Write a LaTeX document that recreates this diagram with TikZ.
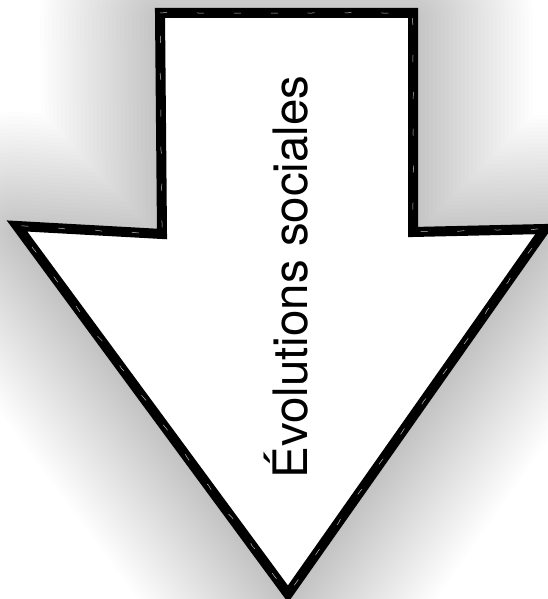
\documentclass[tikz,border=0pt]{standalone}
\usepackage{fontspec}
\setmainfont{TeX Gyre Heros}
\usepackage{graphicx}
\usetikzlibrary{decorations.pathmorphing}
\tikzset{
  shadowstroke/.style={line width=#1, black, opacity=0.006, line join=round},
  mainborder/.style={line width=10pt, black, line join=miter, miter limit=10},
  sketch/.style={line width=2.2pt, black, decorate, decoration={random steps, segment length=6pt, amplitude=1.1pt}},
  scratch/.style={line width=0.5pt, white!75!black, dash pattern=on 7pt off 30pt, decorate, decoration={random steps, segment length=5pt, amplitude=0.5pt}},
  labeltext/.style={rotate=90, anchor=base, font=\fontsize{47}{47}\selectfont, inner sep=0pt}
}
\begin{document}
\begin{tikzpicture}[x=1pt,y=1pt]
\useasboundingbox (0,0) rectangle (547,599);
\fill[white] (0,0) rectangle (547,599);
\def\arrowpath{(160,586) -- (413,586) -- (413,367) -- (545,370) -- (288,5) -- (17,373) -- (162,365) -- cycle}
% soft drop shadow
\begin{scope}[yshift=-6pt]
\foreach \w in {8,16,...,240} {
  \draw[shadowstroke=\w pt] \arrowpath;
}
\end{scope}
% arrow body
\fill[white] \arrowpath;
\draw[mainborder] \arrowpath;
\begin{scope}[xshift=-1.8pt, yshift=1.2pt]
\draw[sketch] \arrowpath;
\end{scope}
\begin{scope}[xshift=1.8pt, yshift=-1.4pt]
\draw[sketch] \arrowpath;
\end{scope}
\draw[scratch] \arrowpath;
% label
\node[labeltext] (label) at (307,322) {\resizebox{403pt}{!}{Évolutions sociales}};
\end{tikzpicture}
\end{document}
